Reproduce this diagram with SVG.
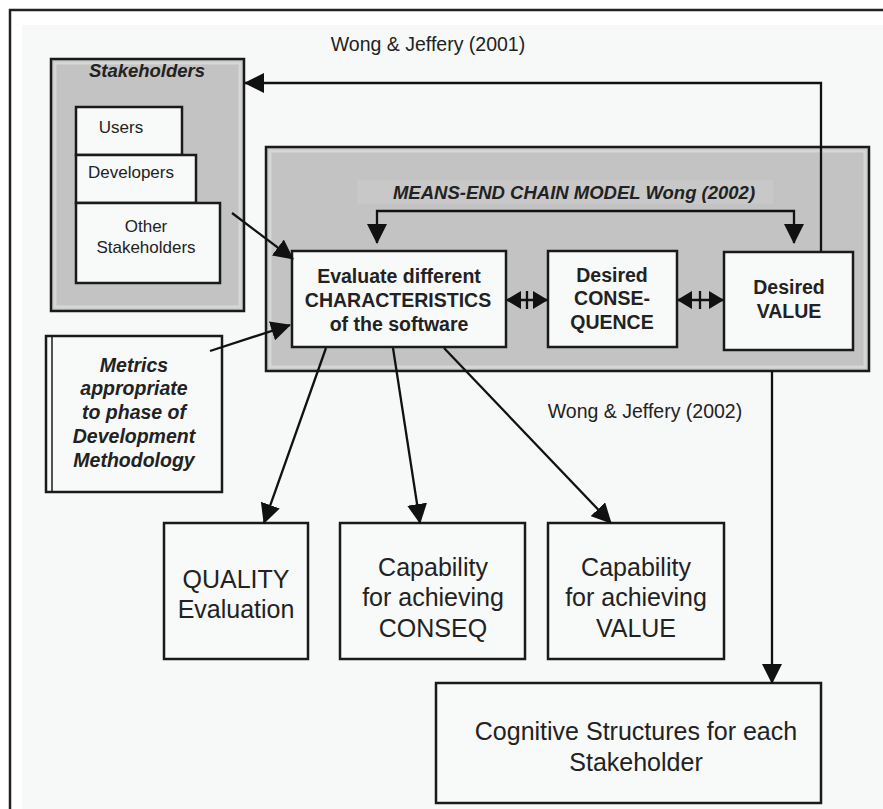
<svg xmlns="http://www.w3.org/2000/svg" width="883" height="809" viewBox="0 0 883 809">
  <defs>
    <style>
      text { font-family: "Liberation Sans", Arial, sans-serif; fill: #222; text-anchor: middle; }
      .b { font-weight: bold; }
      .bi { font-weight: bold; font-style: italic; }
      .box { fill: #f8f9f9; stroke: #1a1a1a; stroke-width: 2.5; }
      .grey { fill: #c3c3c3; stroke: #1a1a1a; stroke-width: 2.5; }
      .halo { fill: none; stroke: #d6d6d6; stroke-width: 3; }
      .con { fill: none; stroke: #111; stroke-width: 2.3; }
    </style>
    <marker id="ah" markerUnits="userSpaceOnUse" markerWidth="20" markerHeight="20" viewBox="0 0 20 20" refX="19" refY="10" orient="auto-start-reverse">
      <path d="M0,0 L20,10 L0,20 z" fill="#111"/>
    </marker>
    <marker id="ahs" markerUnits="userSpaceOnUse" markerWidth="15" markerHeight="18" viewBox="0 0 15 18" refX="14" refY="9" orient="auto-start-reverse">
      <path d="M0,0 L15,9 L0,18 z" fill="#111"/>
    </marker>
  </defs>

  <!-- page frame -->
  <rect x="0" y="0" width="883" height="809" fill="#ffffff"/>
  <rect x="22" y="25" width="861" height="784" fill="#f7f8f8"/>
  <path d="M10,809 V10 H883" fill="none" stroke="#222" stroke-width="2.5"/>

  <text x="428" y="51" font-size="19.5">Wong &amp; Jeffery (2001)</text>
  <text x="645" y="418" font-size="19.5">Wong &amp; Jeffery (2002)</text>

  <!-- stakeholder group -->
  <g id="stakeholders">
    <rect class="grey" x="51" y="59" width="193" height="252"/>
    <rect class="halo" x="55" y="63" width="185" height="244"/>
    <text class="bi" x="147" y="77" font-size="18.5">Stakeholders</text>
  </g>
  <g id="users">
    <rect class="box" x="76" y="107" width="106" height="48"/>
    <text x="121" y="133" font-size="17">Users</text>
  </g>
  <g id="developers">
    <rect class="box" x="76" y="155" width="120" height="48"/>
    <text x="131" y="178" font-size="17">Developers</text>
  </g>
  <g id="other-stakeholders">
    <rect class="box" x="76" y="203" width="144" height="80"/>
    <text x="146" y="232" font-size="17">Other</text>
    <text x="146" y="253" font-size="17">Stakeholders</text>
  </g>

  <!-- means-end chain -->
  <g id="means-end-chain">
    <rect class="grey" x="266" y="147" width="603" height="224"/>
    <rect class="halo" x="270" y="151" width="595" height="216"/>
    <rect x="357" y="180" width="416" height="24" fill="#c8c8c8"/>
    <text class="bi" x="574" y="199" font-size="18.5">MEANS-END CHAIN MODEL Wong (2002)</text>
  </g>
  <g id="characteristics">
    <rect class="box" x="292" y="251" width="214" height="96"/>
    <text class="b" x="399" y="283" font-size="19.5">Evaluate different</text>
    <text class="b" x="398" y="307" font-size="19.5">CHARACTERISTICS</text>
    <text class="b" x="399" y="331" font-size="19.5">of the software</text>
  </g>
  <g id="consequence">
    <rect class="box" x="548" y="251" width="129" height="96"/>
    <text class="b" x="612" y="282" font-size="19.5">Desired</text>
    <text class="b" x="612" y="305" font-size="19.5">CONSE-</text>
    <text class="b" x="612" y="329" font-size="19.5">QUENCE</text>
  </g>
  <g id="value">
    <rect class="box" x="724" y="252" width="129" height="98"/>
    <text class="b" x="789" y="294" font-size="19.5">Desired</text>
    <text class="b" x="789" y="318" font-size="19.5">VALUE</text>
  </g>

  <!-- metrics -->
  <g id="metrics">
    <rect class="box" x="46" y="336" width="176" height="156"/>
    <line x1="52" y1="336" x2="52" y2="492" stroke="#1a1a1a" stroke-width="1.5"/>
    <text class="bi" x="134" y="372" font-size="19.5">Metrics</text>
    <text class="bi" x="134" y="395" font-size="19.5">appropriate</text>
    <text class="bi" x="134" y="419" font-size="19.5">to phase of</text>
    <text class="bi" x="134" y="443" font-size="19.5">Development</text>
    <text class="bi" x="134" y="467" font-size="19.5">Methodology</text>
  </g>

  <!-- outcome boxes -->
  <g id="quality">
    <rect class="box" x="164" y="523" width="144" height="136"/>
    <text x="236" y="588" font-size="25">QUALITY</text>
    <text x="236" y="618" font-size="25">Evaluation</text>
  </g>
  <g id="capability-conseq">
    <rect class="box" x="340" y="523" width="185" height="136"/>
    <text x="433" y="576" font-size="25">Capability</text>
    <text x="433" y="606" font-size="25">for achieving</text>
    <text x="433" y="637" font-size="25">CONSEQ</text>
  </g>
  <g id="capability-value">
    <rect class="box" x="548" y="523" width="176" height="136"/>
    <text x="636" y="576" font-size="25">Capability</text>
    <text x="636" y="606" font-size="25">for achieving</text>
    <text x="636" y="637" font-size="25">VALUE</text>
  </g>
  <g id="cognitive">
    <rect class="box" x="436" y="683" width="385" height="120"/>
    <text x="636" y="740" font-size="25">Cognitive Structures for each</text>
    <text x="636" y="771" font-size="25">Stakeholder</text>
  </g>

  <!-- connectors -->
  <g id="connectors">
    <path class="con" d="M821,251 V83 H245" marker-end="url(#ah)"/>
    <path class="con" d="M377,243 V211 H794 V243" marker-start="url(#ah)" marker-end="url(#ah)"/>
    <path class="con" d="M232,213 L293,259" marker-end="url(#ah)"/>
    <path class="con" d="M210,351 L290,325" marker-end="url(#ah)"/>
    <path class="con" d="M326,348 L264,523" marker-end="url(#ah)"/>
    <path class="con" d="M393,348 L420,523" marker-end="url(#ah)"/>
    <path class="con" d="M444,348 L611,523" marker-end="url(#ah)"/>
    <path class="con" d="M772,371 V683" marker-end="url(#ah)"/>
    <path class="con" d="M507,300 H547" stroke-width="3" marker-start="url(#ahs)" marker-end="url(#ahs)"/>
    <path class="con" d="M527,291 V309"/>
    <path class="con" d="M678,300 H723" stroke-width="3" marker-start="url(#ahs)" marker-end="url(#ahs)"/>
    <path class="con" d="M700,291 V309"/>
  </g>
</svg>
